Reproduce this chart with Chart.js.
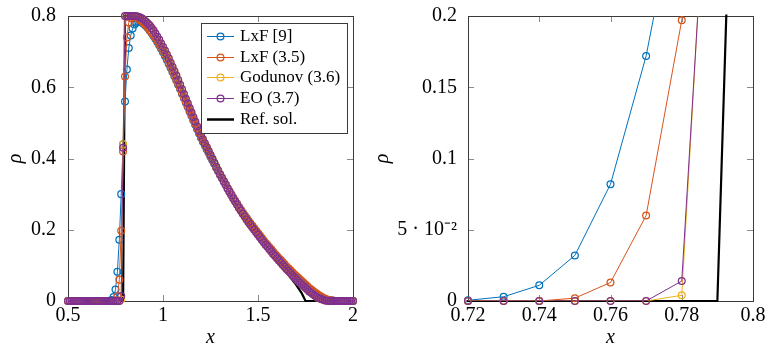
<!DOCTYPE html>
<html>
<head>
<meta charset="utf-8">
<script src="https://cdn.jsdelivr.net/npm/chart.js@4.4.1/dist/chart.umd.min.js"></script>
<style>
  html, body { margin: 0; background: #fff; }
  #wrap { position: relative; width: 784px; height: 352px; overflow: hidden; background: #fff; }
  canvas { position: absolute; top: 0; }
</style>
</head>
<body>
<div id="wrap">
  <canvas id="leftChart" width="370" height="352" style="left:0px"></canvas>
  <canvas id="rightChart" width="414" height="352" style="left:370px"></canvas>
</div>
<script>
// grid points (x)
const xs = [
  0.50,0.51,0.52,0.53,0.54,0.55,0.56,0.57,0.58,0.59,
  0.60,0.61,0.62,0.63,0.64,0.65,0.66,0.67,0.68,0.69,
  0.70,0.71,0.72,0.73,0.74,0.75,0.76,0.77,0.78,0.79,
  0.80,0.81,0.82,0.83,0.84,0.85,0.86,0.87,0.88,0.89,
  0.90,0.91,0.92,0.93,0.94,0.95,0.96,0.97,0.98,0.99,
  1.00,1.01,1.02,1.03,1.04,1.05,1.06,1.07,1.08,1.09,
  1.10,1.11,1.12,1.13,1.14,1.15,1.16,1.17,1.18,1.19,
  1.20,1.21,1.22,1.23,1.24,1.25,1.26,1.27,1.28,1.29,
  1.30,1.31,1.32,1.33,1.34,1.35,1.36,1.37,1.38,1.39,
  1.40,1.41,1.42,1.43,1.44,1.45,1.46,1.47,1.48,1.49,
  1.50,1.51,1.52,1.53,1.54,1.55,1.56,1.57,1.58,1.59,
  1.60,1.61,1.62,1.63,1.64,1.65,1.66,1.67,1.68,1.69,
  1.70,1.71,1.72,1.73,1.74,1.75,1.76,1.77,1.78,1.79,
  1.80,1.81,1.82,1.83,1.84,1.85,1.86,1.87,1.88,1.89,
  1.90,1.91,1.92,1.93,1.94,1.95,1.96,1.97,1.98,1.99,
  2.00
];

const lxf9 = [
  0,0,0,0,0,0,0,0,0,0,
  0,0,0,0,0,0,0,0,0,0,
  0,0,0.0005,0.003,0.011,0.032,0.082,0.172,0.30,0.44,
  0.56,0.65,0.71,0.745,0.765,0.776,0.781,0.783,0.783,0.781,
  0.777,0.772,0.766,0.759,0.752,0.744,0.736,0.727,0.718,0.708,
  0.698,0.688,0.677,0.666,0.655,0.643,0.631,0.620,0.607,0.595,
  0.582,0.570,0.557,0.545,0.532,0.520,0.507,0.495,0.482,0.470,
  0.458,0.447,0.437,0.426,0.416,0.405,0.395,0.385,0.374,0.364,
  0.354,0.345,0.335,0.326,0.316,0.307,0.298,0.289,0.280,0.272,
  0.263,0.255,0.247,0.239,0.232,0.224,0.217,0.210,0.203,0.196,
  0.189,0.182,0.175,0.168,0.162,0.155,0.149,0.143,0.136,0.130,
  0.124,0.118,0.113,0.107,0.101,0.095,0.090,0.085,0.079,0.074,
  0.069,0.064,0.059,0.054,0.049,0.044,0.039,0.035,0.030,0.026,
  0.022,0.018,0.015,0.012,0.009,0.006,0.004,0.003,0.002,0.001,
  0.0005,0,0,0,0,0,0,0,0,0,
  0
];

const lxf35 = [
  0,0,0,0,0,0,0,0,0,0,
  0,0,0,0,0,0,0,0,0,0,
  0,0,0,0,0,0.002,0.013,0.060,0.197,0.42,
  0.63,0.74,0.782,0.794,0.797,0.797,0.795,0.792,0.788,0.784,
  0.779,0.774,0.768,0.761,0.754,0.747,0.739,0.730,0.721,0.711,
  0.701,0.691,0.680,0.669,0.658,0.646,0.634,0.622,0.610,0.597,
  0.584,0.572,0.559,0.547,0.534,0.522,0.509,0.497,0.484,0.472,
  0.460,0.450,0.439,0.429,0.418,0.408,0.397,0.387,0.376,0.366,
  0.356,0.346,0.337,0.327,0.317,0.308,0.299,0.290,0.281,0.273,
  0.264,0.256,0.248,0.240,0.233,0.225,0.218,0.211,0.204,0.197,
  0.191,0.184,0.177,0.170,0.163,0.157,0.151,0.145,0.138,0.132,
  0.126,0.120,0.115,0.109,0.103,0.097,0.092,0.087,0.081,0.076,
  0.071,0.066,0.061,0.056,0.051,0.046,0.041,0.036,0.032,0.028,
  0.024,0.020,0.016,0.013,0.010,0.007,0.005,0.003,0.002,0.001,
  0.0005,0,0,0,0,0,0,0,0,0,
  0
];

const godunov = [
  0,0,0,0,0,0,0,0,0,0,
  0,0,0,0,0,0,0,0,0,0,
  0,0,0,0,0,0,0,0,0.004,0.44,
  0.8,0.8,0.8,0.8,0.8,0.8,0.799,0.798,0.796,0.793,
  0.789,0.784,0.779,0.773,0.766,0.759,0.751,0.742,0.733,0.723,
  0.713,0.703,0.692,0.681,0.669,0.657,0.645,0.633,0.620,0.607,
  0.594,0.581,0.568,0.555,0.542,0.529,0.516,0.503,0.490,0.477,
  0.465,0.454,0.443,0.432,0.421,0.410,0.399,0.388,0.377,0.366,
  0.356,0.346,0.336,0.326,0.316,0.306,0.297,0.288,0.279,0.270,
  0.261,0.253,0.245,0.237,0.229,0.221,0.214,0.207,0.200,0.193,
  0.186,0.179,0.172,0.165,0.158,0.152,0.145,0.139,0.132,0.126,
  0.120,0.114,0.108,0.102,0.096,0.090,0.085,0.079,0.073,0.068,
  0.063,0.057,0.052,0.047,0.042,0.037,0.032,0.027,0.023,0.019,
  0.015,0.011,0.008,0.006,0.004,0.002,0.001,0.0005,0,0,
  0,0,0,0,0,0,0,0,0,0,
  0
];

const eo = [
  0,0,0,0,0,0,0,0,0,0,
  0,0,0,0,0,0,0,0,0,0,
  0,0,0,0,0,0,0,0,0.014,0.43,
  0.8,0.8,0.8,0.8,0.8,0.8,0.799,0.798,0.796,0.793,
  0.789,0.784,0.779,0.773,0.766,0.759,0.751,0.742,0.733,0.723,
  0.713,0.703,0.692,0.681,0.669,0.657,0.645,0.633,0.620,0.607,
  0.594,0.581,0.568,0.555,0.542,0.529,0.516,0.503,0.490,0.477,
  0.465,0.454,0.443,0.432,0.421,0.410,0.399,0.388,0.377,0.366,
  0.356,0.346,0.336,0.326,0.316,0.306,0.297,0.288,0.279,0.270,
  0.261,0.253,0.245,0.237,0.229,0.221,0.214,0.207,0.200,0.193,
  0.186,0.179,0.172,0.165,0.158,0.152,0.145,0.139,0.132,0.126,
  0.120,0.114,0.108,0.102,0.096,0.090,0.085,0.079,0.073,0.068,
  0.063,0.057,0.052,0.047,0.042,0.037,0.032,0.027,0.023,0.019,
  0.015,0.011,0.008,0.006,0.004,0.002,0.001,0.0005,0,0,
  0,0,0,0,0,0,0,0,0,0,
  0
];

// reference solution
const refX = [0.50,0.79,0.80,0.85,0.875,0.90,0.925,0.95,1.00,1.05,1.10,1.15,1.20,1.25,1.30,1.35,1.40,1.45,1.50,1.55,1.60,1.65,1.70,1.73,1.75,2.00];
const refY = [0,0,0.80,0.80,0.798,0.790,0.778,0.763,0.718,0.662,0.600,0.534,0.468,0.410,0.356,0.306,0.259,0.219,0.183,0.148,0.114,0.080,0.046,0.022,0,0];

const seriesLabels = ['LxF [9]', 'LxF (3.5)', 'Godunov (3.6)', 'EO (3.7)'];
const seriesColors = ['#0072BD', '#D95319', '#EDB120', '#7E2F8E'];
const seriesData = [lxf9, lxf35, godunov, eo];
const refLabel = 'Ref. sol.';

// axis ticks
const leftXTicks = [0.5, 1, 1.5, 2];
const leftXLabels = ['0.5', '1', '1.5', '2'];
const leftYTicks = [0, 0.2, 0.4, 0.6, 0.8];
const leftYLabels = ['0', '0.2', '0.4', '0.6', '0.8'];
const rightXTicks = [0.72, 0.74, 0.76, 0.78, 0.8];
const rightXLabels = ['0.72', '0.74', '0.76', '0.78', '0.8'];
const rightYTicks = [0, 0.05, 0.1, 0.15, 0.2];
const rightYLabels = ['0', '5 \u00b7 10\u207b\u00b2', '0.1', '0.15', '0.2'];

const FONT = '"Liberation Serif", "Times New Roman", serif';

function buildDatasets() {
  const ds = [];
  seriesData.forEach((vals, k) => {
    const pts = xs.map((x, i) => ({ x: x, y: vals[i] }));
    ds.push({
      label: seriesLabels[k], data: pts, borderColor: seriesColors[k], borderWidth: 1,
      pointRadius: 0, tension: 0, clip: 0, order: 50 - 2 * k
    });
    ds.push({
      label: seriesLabels[k] + ' marks', data: pts, showLine: false,
      pointRadius: 3.4, pointBorderWidth: 1.25, pointBorderColor: seriesColors[k],
      pointBackgroundColor: 'rgba(0,0,0,0)', clip: 5, order: 49 - 2 * k
    });
  });
  ds.push({
    label: refLabel, data: refX.map((x, i) => ({ x: x, y: refY[i] })),
    borderColor: '#000', borderWidth: 2.2, pointRadius: 0, tension: 0, clip: 1.5, order: 100
  });
  return ds;
}

// box around the plot plus inward tick marks on all four sides
const frame = {
  id: 'frame',
  beforeDatasetsDraw(chart) {
    const { ctx, chartArea: a, scales } = chart;
    ctx.save();
    ctx.strokeStyle = '#8a8a8a';
    ctx.lineWidth = 1;
    ctx.beginPath();
    scales.x.ticks.forEach(t => {
      const px = Math.round(scales.x.getPixelForValue(t.value)) + 0.5;
      ctx.moveTo(px, a.bottom); ctx.lineTo(px, a.bottom - 6);
      ctx.moveTo(px, a.top); ctx.lineTo(px, a.top + 6);
    });
    scales.y.ticks.forEach(t => {
      const py = Math.round(scales.y.getPixelForValue(t.value)) + 0.5;
      ctx.moveTo(a.left, py); ctx.lineTo(a.left + 6, py);
      ctx.moveTo(a.right, py); ctx.lineTo(a.right - 6, py);
    });
    ctx.stroke();
    ctx.strokeStyle = '#3a3a3a';
    ctx.strokeRect(Math.round(a.left) + 0.5, Math.round(a.top) + 0.5,
      Math.round(a.right - a.left), Math.round(a.bottom - a.top));
    ctx.restore();
  }
};

const insideLegend = {
  id: 'insideLegend',
  afterDraw(chart) {
    const { ctx, chartArea: a } = chart;
    const w = 146, h = 110;
    const x0 = Math.round(a.right - 6 - w), y0 = Math.round(a.top + 7);
    ctx.save();
    ctx.fillStyle = '#fff';
    ctx.fillRect(x0, y0, w, h);
    ctx.strokeStyle = '#3a3a3a';
    ctx.lineWidth = 1;
    ctx.strokeRect(x0 + 0.5, y0 + 0.5, w, h);
    const rows = seriesLabels.map((l, k) => ({ label: l, color: seriesColors[k], mark: true }));
    rows.push({ label: refLabel, color: '#000', mark: false });
    ctx.font = '17px ' + FONT;
    ctx.textBaseline = 'middle';
    rows.forEach((r, i) => {
      const cy = Math.round(y0 + 13 + i * 20.7) + 0.5;
      ctx.strokeStyle = r.color;
      ctx.lineWidth = r.mark ? 1 : 2.5;
      ctx.beginPath(); ctx.moveTo(x0 + 6, cy); ctx.lineTo(x0 + 33, cy); ctx.stroke();
      if (r.mark) {
        ctx.lineWidth = 1.25;
        ctx.beginPath(); ctx.arc(x0 + 19.5, cy, 3.4, 0, 2 * Math.PI); ctx.stroke();
      }
      ctx.fillStyle = '#000';
      ctx.fillText(r.label, x0 + 39, cy);
    });
    ctx.restore();
  }
};

function makeChart(id, opt) {
  const ctx = document.getElementById(id).getContext('2d');
  return new Chart(ctx, {
    type: 'line',
    data: { datasets: buildDatasets() },
    options: {
      responsive: false,
      animation: false,
      layout: { padding: { left: 0, right: opt.padRight, top: 16, bottom: 0 } },
      plugins: { legend: { display: false }, tooltip: { enabled: false } },
      scales: {
        x: {
          type: 'linear', min: opt.xTicks[0], max: opt.xTicks[opt.xTicks.length - 1],
          grid: { display: false }, border: { display: false },
          afterBuildTicks: s => { s.ticks = opt.xTicks.map(v => ({ value: v })); },
          afterFit: s => { s.height = 51; },
          ticks: {
            autoSkip: false, maxRotation: 0, padding: -5, color: '#000',
            font: { family: FONT, size: 20 },
            callback: (v, i) => opt.xLabels[i]
          },
          title: {
            display: true, text: 'x', color: '#000',
            font: { family: FONT, size: 20, style: 'italic' },
            padding: { top: 0, bottom: 2 }
          }
        },
        y: {
          type: 'linear', min: opt.yTicks[0], max: opt.yTicks[opt.yTicks.length - 1],
          grid: { display: false }, border: { display: false },
          afterBuildTicks: s => { s.ticks = opt.yTicks.map(v => ({ value: v })); },
          afterFit: s => { s.width = opt.yWidth; },
          ticks: {
            autoSkip: false, padding: opt.yPad, color: '#000',
            font: { family: FONT, size: 20 },
            callback: (v, i) => opt.yLabels[i]
          },
          title: {
            display: true, text: '\u03c1', color: '#000',
            font: { family: FONT, size: 20, style: 'italic' },
            padding: { top: opt.titlePad, bottom: 0 }
          }
        }
      }
    },
    plugins: opt.legend ? [frame, insideLegend] : [frame]
  });
}

makeChart('leftChart', {
  xTicks: leftXTicks, xLabels: leftXLabels, yTicks: leftYTicks, yLabels: leftYLabels,
  padRight: 17, yWidth: 68, yPad: 4, titlePad: 4, legend: true
});
makeChart('rightChart', {
  xTicks: rightXTicks, xLabels: rightXLabels, yTicks: rightYTicks, yLabels: rightYLabels,
  padRight: 31, yWidth: 98, yPad: 3, titlePad: 1, legend: false
});
</script>
</body>
</html>
